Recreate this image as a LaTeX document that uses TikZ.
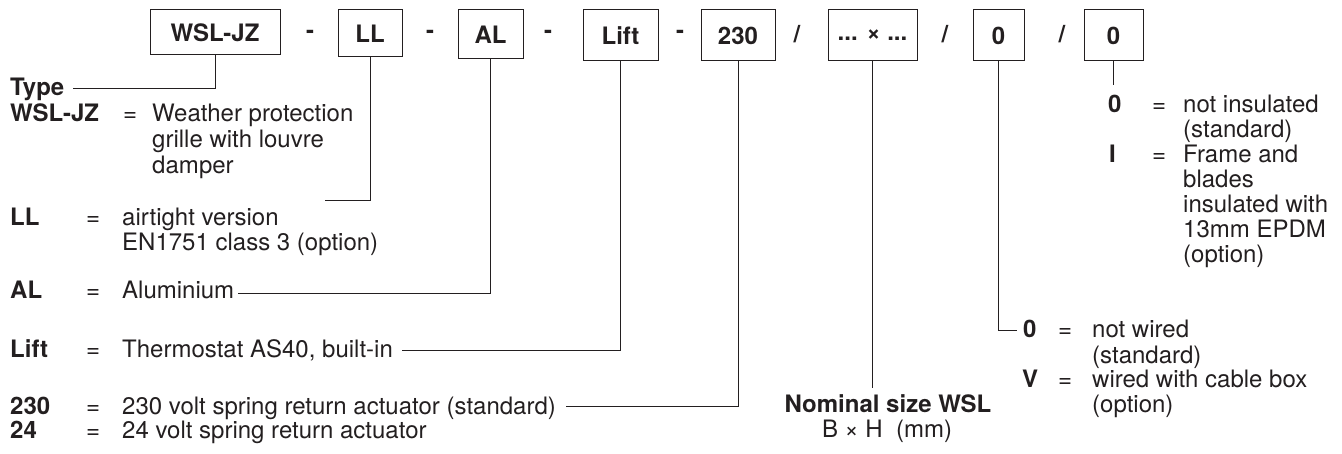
\documentclass[tikz,border=0pt]{standalone}
\usepackage{fontspec}
\setmainfont{TeX Gyre Heros}
\newcommand\fsz{\fontsize{24}{25}\selectfont}
\definecolor{ink}{HTML}{231F20}
\begin{document}
\begin{tikzpicture}[x=1pt,y=-1pt,
  every node/.style={inner sep=0pt, text=ink},
  codebox/.style={draw=ink, line width=1pt, font=\fsz\bfseries, minimum height=51pt},
  sep/.style={font=\fsz\bfseries},
  lbl/.style={anchor=base west, font=\fsz},
  key/.style={anchor=base west, font=\fsz\bfseries},
  conn/.style={draw=ink, line width=0.8pt}]
\useasboundingbox (0,0) rectangle (1342,454);

% code boxes
\node[codebox, minimum width=130pt, minimum height=45pt] (bw)    at (215,32.5) {WSL-JZ};
\node[sep] (s1) at (310,34) {-};
\node[codebox, minimum width=64pt, minimum height=47pt]  (bll)   at (370,33.5) {LL};
\node[sep] (s2) at (430,34) {-};
\node[codebox, minimum width=65pt, minimum height=49pt]  (bal)   at (490.5,34.5) {AL};
\node[sep] (s3) at (548,34) {-};
\node[codebox, minimum width=75pt]  (blift) at (620.5,35.5) {Lift};
\node[sep] (s4) at (680,34) {-};
\node[codebox, minimum width=74pt]  (b230)  at (738,35.5) {230};
\node[sep] (s5) at (797,34) {/};
\node[codebox, minimum width=89pt]  (bsize) at (872.5,35.5) {... × ...};
\node[sep] (s6) at (945,34) {/};
\node[codebox, minimum width=51pt]  (bwire) at (998.5,35.5) {0};
\node[sep] (s7) at (1062,34) {/};
\node[codebox, minimum width=59pt]  (bins)  at (1113.5,35.5) {0};

% left legend
\node[key] (kType) at (10,96) {Type};
\node[key] (kWSL) at (10,122) {WSL-JZ};
\node[lbl] (eWSL) at (123,122) {=};
\node[lbl] (tWSLa) at (152,122) {Weather protection};
\node[lbl] (tWSLb) at (152,148) {grille with louvre};
\node[lbl] (tWSLc) at (152,174) {damper};

\node[key] (kLL) at (10,226) {LL};
\node[lbl] (eLL) at (86,226) {=};
\node[lbl] (tLLa) at (122,226) {airtight version};
\node[lbl] (tLLb) at (122,251) {EN1751 class 3 (option)};

\node[key] (kAL) at (10,299) {AL};
\node[lbl] (eAL) at (86,299) {=};
\node[lbl] (tAL) at (122,299) {Aluminium};

\node[key] (kLift) at (10,358) {Lift};
\node[lbl] (eLift) at (86,358) {=};
\node[lbl] (tLift) at (122,358) {Thermostat AS40, built-in};

\node[key] (k230) at (10,414) {230};
\node[lbl] (e230) at (86,414) {=};
\node[lbl] (t230) at (122,414) {230 volt spring return actuator (standard)};
\node[key] (k24) at (10,438) {24};
\node[lbl] (e24) at (86,438) {=};
\node[lbl] (t24) at (122,438) {24 volt spring return actuator};

% nominal size
\node[key, anchor=base] (nomA) at (888,413) {Nominal size WSL};
\node[lbl, anchor=base] (nomB) at (887,437) {B × H\ \ (mm)};

% right legend: insulation
\node[key] (kI0) at (1108,113) {0};
\node[lbl] (eI0) at (1152,113) {=};
\node[lbl] (tI0a) at (1183,113) {not insulated};
\node[lbl] (tI0b) at (1183,138) {(standard)};
\node[key] (kI1) at (1109,163) {I};
\node[lbl] (eI1) at (1152,163) {=};
\node[lbl] (tI1a) at (1183,163) {Frame and};
\node[lbl] (tI1b) at (1183,188) {blades};
\node[lbl] (tI1c) at (1183,213) {insulated with};
\node[lbl] (tI1d) at (1183,238) {13mm EPDM};
\node[lbl] (tI1e) at (1183,263) {(option)};

% right legend: wiring
\node[key] (kW0) at (1023,338) {0};
\node[lbl] (eW0) at (1058,338) {=};
\node[lbl] (tW0a) at (1092,338) {not wired};
\node[lbl] (tW0b) at (1092,363) {(standard)};
\node[key] (kWV) at (1022,388) {V};
\node[lbl] (eWV) at (1058,388) {=};
\node[lbl] (tWVa) at (1092,388) {wired with cable box};
\node[lbl] (tWVb) at (1092,413) {(option)};

% connector ends
\coordinate (typeE) at (73,88);
\coordinate (llE) at (325,200);
\coordinate (alE) at (238,293);
\coordinate (liftE) at (402,350);
\coordinate (e230E) at (566,406);
\coordinate (sizeE) at (872.5,388);
\coordinate (wireE) at (1017,330);
\coordinate (insE) at (1113.5,85);

\draw[conn] (bw.south) |- (typeE);
\draw[conn] (bll.south) |- (llE);
\draw[conn] (bal.south) |- (alE);
\draw[conn] (blift.south) |- (liftE);
\draw[conn] (b230.south) |- (e230E);
\draw[conn] (bsize.south) -- (sizeE);
\draw[conn] (bwire.south) |- (wireE);
\draw[conn] (bins.south) -- (insE);
\end{tikzpicture}
\end{document}
